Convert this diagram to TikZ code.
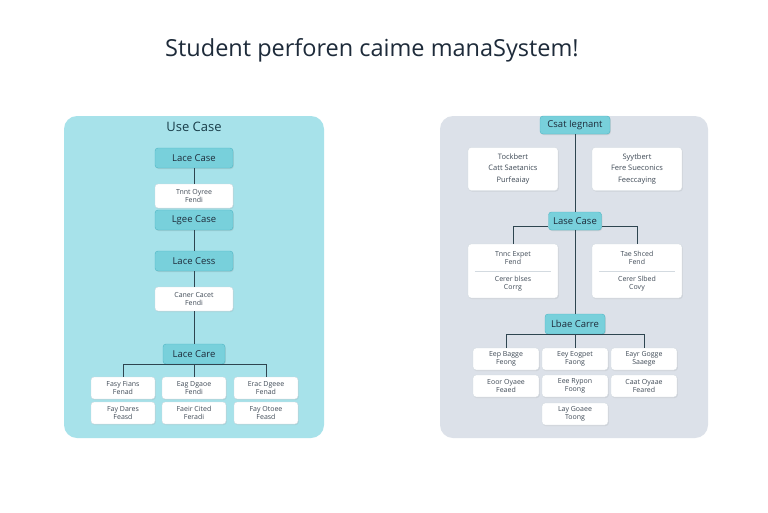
\documentclass[tikz,border=0pt]{standalone}
\usepackage{fontspec}
\setmainfont{Open Sans}
\usetikzlibrary{positioning,shadows}

\definecolor{leftbg}{HTML}{A7E2EA}
\definecolor{rightbg}{HTML}{DCE1E9}
\definecolor{casefill}{HTML}{78D0DB}
\definecolor{caseedge}{HTML}{4FB6C4}
\definecolor{navy}{HTML}{1E2B3A}
\definecolor{linecol}{HTML}{2E4550}
\definecolor{boxedge}{HTML}{D3DAE0}

\tikzset{
  casebox/.style={draw=caseedge, fill=casefill, rounded corners=3pt, minimum width=78pt,
    minimum height=20pt, inner sep=1pt, text=navy, font=\fontsize{9.5}{11}\selectfont,
    drop shadow={opacity=.2, shadow xshift=.8pt, shadow yshift=-1pt}},
  notebox/.style={draw=boxedge, fill=white, rounded corners=3pt, align=center, inner sep=1pt,
    text=navy!85, font=\fontsize{7}{8}\selectfont,
    drop shadow={opacity=.15, shadow xshift=.8pt, shadow yshift=-1pt}},
  leafbox/.style={notebox, minimum width=64pt, minimum height=22pt},
  link/.style={draw=linecol, line width=.8pt}
}

\begin{document}
\begin{tikzpicture}[x=1pt, y=-1pt]
  \useasboundingbox[fill=white] (0,0) rectangle (768,512);
  \node[text=navy, font=\fontsize{23.5}{26}\selectfont] (title) at (372,50) {Student perforen caime manaSystem!};

  % left panel
  \fill[leftbg, rounded corners=13pt] (64,116) rectangle (324,438);
  \node[text=navy!80!teal, font=\fontsize{13}{15}\selectfont] (ltitle) at (194,127) {Use Case};
  \node[casebox] (l1) at (194,158) {Lace Case};
  \node[notebox, minimum width=78pt, minimum height=24pt] (l2) at (194,196) {Tnnt Oyree\\Fendi};
  \node[casebox] (l3) at (194,220) {Lgee Case};
  \node[casebox] (l4) at (194,261) {Lace Cess};
  \node[notebox, minimum width=78pt, minimum height=24pt] (l5) at (194,299) {Caner Cacet\\Fendi};
  \node[casebox, minimum width=62pt] (l6) at (194,354) {Lace Care};
  \node[leafbox] (la1) at (123,388) {Fasy Fians\\Fenad};
  \node[leafbox] (la2) at (194,388) {Eag Dgaoe\\Fendi};
  \node[leafbox] (la3) at (266,388) {Erac Dgeee\\Fenad};
  \node[leafbox] (lb1) at (123,413) {Fay Dares\\Feasd};
  \node[leafbox] (lb2) at (194,413) {Faeir Cited\\Feradi};
  \node[leafbox] (lb3) at (266,413) {Fay Otoee\\Feasd};
  \draw[link] (l1) -- (l2);
  \draw[link] (l3) -- (l4);
  \draw[link] (l4) -- (l5);
  \draw[link] (l5) -- (l6);
  \draw[link] (la1.north) |- (l6.south) -| (la3.north);
  \draw[link] (l6) -- (la2);

  % right panel
  \fill[rightbg, rounded corners=13pt] (440,116) rectangle (708,438);
  \node[casebox, minimum width=70pt, minimum height=18pt] (r1) at (575,125) {Csat Iegnant};
  \node[notebox, minimum width=90pt, minimum height=43pt, font=\fontsize{7.5}{11.5}\selectfont] (r2) at (513,169) {Tockbert\\Catt Saetanics\\Purfeaiay};
  \node[notebox, minimum width=90pt, minimum height=43pt, font=\fontsize{7.5}{11.5}\selectfont] (r3) at (637,169) {Syytbert\\Fere Sueconics\\Feeccaying};
  \node[casebox, minimum width=53pt, minimum height=18pt] (r4) at (575,221) {Lase Case};
  \node[notebox, minimum width=90pt, minimum height=54pt] (r5) at (513,271) {Tnnc Expet\\Fend\\[9pt]Cerer blses\\Corrg};
  \node[notebox, minimum width=90pt, minimum height=54pt] (r6) at (637,271) {Tae Shced\\Fend\\[9pt]Cerer Slbed\\Covy};
  \draw[boxedge, line width=.6pt] ([xshift=7pt]r5.west) -- ([xshift=-7pt]r5.east);
  \draw[boxedge, line width=.6pt] ([xshift=7pt]r6.west) -- ([xshift=-7pt]r6.east);
  \node[casebox, minimum width=60pt, minimum height=20pt] (r7) at (575,324) {Lbae Carre};
  \node[leafbox, minimum width=66pt] (ra1) at (506,359) {Eep Bagge\\Feong};
  \node[leafbox, minimum width=66pt] (ra2) at (575,359) {Eey Eogpet\\Faong};
  \node[leafbox, minimum width=66pt] (ra3) at (644,359) {Eayr Gogge\\Saaege};
  \node[leafbox, minimum width=66pt] (rb1) at (506,386) {Eoor Oyaee\\Feaed};
  \node[leafbox, minimum width=66pt] (rb2) at (575,386) {Eee Rypon\\Foong};
  \node[leafbox, minimum width=66pt] (rb3) at (644,386) {Caat Oyaae\\Feared};
  \node[leafbox, minimum width=66pt] (rc2) at (575,414) {Lay Goaee\\Toong};
  \draw[link] (r1) -- (r4);
  \draw[link] (r4) -- (r7);
  \draw[link] (r5.north) |- ([yshift=-5pt]r4.west);
  \draw[link] (r6.north) |- ([yshift=-5pt]r4.east);
  \draw[link] (ra1.north) |- (r7.south) -| (ra3.north);
  \draw[link] (r7) -- (ra2);
\end{tikzpicture}
\end{document}
